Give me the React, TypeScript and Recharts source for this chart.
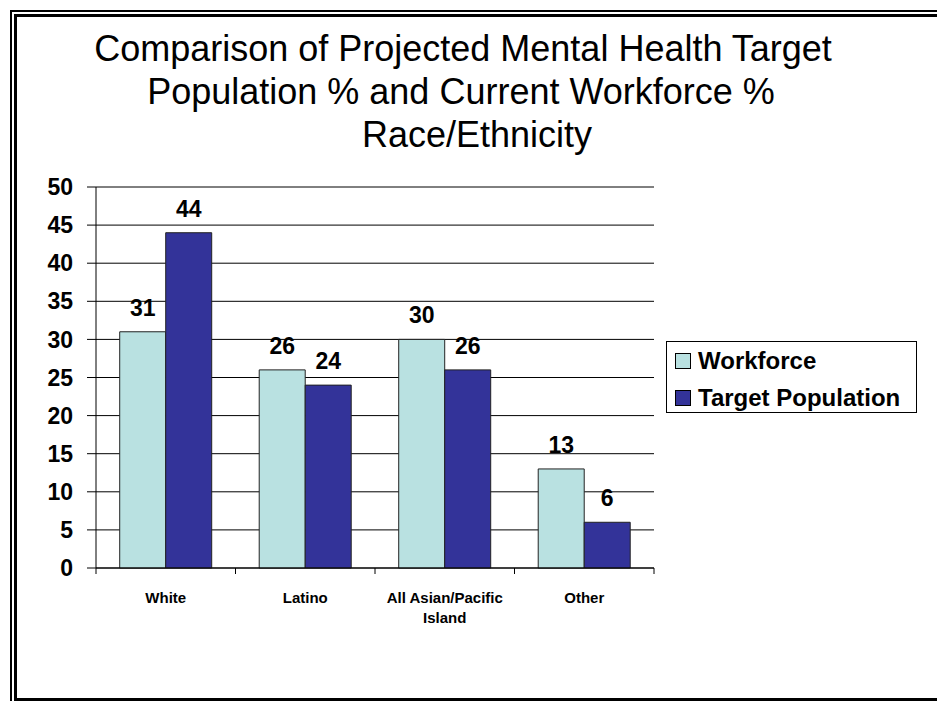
import React from 'react';
import { BarChart, Bar, XAxis, YAxis, CartesianGrid, Legend, LabelList } from 'recharts';

const categories = ['White', 'Latino', 'All Asian/Pacific Island', 'Other'];
const workforce = [31, 26, 30, 13];
const targetPopulation = [44, 24, 26, 6];
const yTicks = [0, 5, 10, 15, 20, 25, 30, 35, 40, 45, 50];
const titleLines = [
  'Comparison of Projected Mental Health Target',
  'Population % and Current Workforce %',
  'Race/Ethnicity',
];

const data = categories.map((name, i) => ({
  name,
  workforce: workforce[i],
  target: targetPopulation[i],
}));

const FONT = 'Arial, "Liberation Sans", sans-serif';
const LIGHT = '#B9E1E1';
const DARK = '#333399';

const CategoryTick = (props: any) => {
  const { x, y, payload, index, visibleTicksCount } = props;
  const half = payload.offset || 0;
  const words = String(payload.value).split(' ');
  const lines = words.length > 2 ? [words.slice(0, 2).join(' '), words.slice(2).join(' ')] : [payload.value];
  const last = index === (visibleTicksCount ?? categories.length) - 1;
  return (
    <g>
      <line x1={x - half} x2={x - half} y1={y} y2={y + 6} stroke="#000" />
      {last && <line x1={x + half} x2={x + half} y1={y} y2={y + 6} stroke="#000" />}
      <text x={x} y={y + 35} textAnchor="middle" fontFamily={FONT} fontWeight="bold" fontSize={15} fill="#000">
        {lines.map((l: string, i: number) => (
          <tspan key={i} x={x} dy={i === 0 ? 0 : 20}>{l}</tspan>
        ))}
      </text>
    </g>
  );
};

const LegendBox = () => (
  <div
    style={{
      border: '1px solid #000',
      width: 251,
      height: 72,
      boxSizing: 'border-box',
      paddingLeft: 8,
      paddingTop: 0,
      fontFamily: FONT,
      fontWeight: 'bold',
      fontSize: 24,
      background: '#fff',
    }}
  >
    {[
      { label: 'Workforce', color: LIGHT },
      { label: 'Target Population', color: DARK },
    ].map((it) => (
      <div key={it.label} style={{ display: 'flex', alignItems: 'center', height: 37, whiteSpace: 'nowrap' }}>
        <span
          style={{
            display: 'inline-block',
            width: 14,
            height: 14,
            background: it.color,
            border: '1px solid #000',
            marginRight: 7,
            flexShrink: 0,
          }}
        />
        {it.label}
      </div>
    ))}
  </div>
);

export default function App() {
  return (
    <div style={{ position: 'absolute', left: 0, top: 0, width: 937, height: 701, overflow: 'hidden', background: '#fff' }}>
      <div style={{ position: 'absolute', left: 10, top: 10, width: 1000, height: 1000, borderLeft: '2px solid #000', borderTop: '2px solid #000' }} />
      <div style={{ position: 'absolute', left: 14, top: 14, width: 1000, height: 681, borderLeft: '3px solid #000', borderTop: '3px solid #000', borderBottom: '3px solid #000' }} />
      {titleLines.map((t, i) => (
        <div
          key={i}
          style={{
            position: 'absolute',
            left: [463, 461, 477][i] - 450,
            top: 27 + i * 43,
            width: 900,
            textAlign: 'center',
            fontFamily: FONT,
            fontSize: 36,
            lineHeight: '43px',
            color: '#000',
            whiteSpace: 'nowrap',
          }}
        >
          {t}
        </div>
      ))}
      <div style={{ position: 'absolute', left: 0, top: 0 }}>
        <BarChart
          width={937}
          height={701}
          data={data}
          margin={{ top: 187, right: 283, bottom: 73, left: 0 }}
          barGap={0}
          barCategoryGap="17%"
        >
          <CartesianGrid vertical={false} stroke="#000" strokeWidth={1} />
          <XAxis
            dataKey="name"
            height={60}
            axisLine={{ stroke: '#000' }}
            tickLine={false}
            tickSize={0}
            tickMargin={0}
            interval={0}
            tick={<CategoryTick />}
          />
          <YAxis
            width={96}
            domain={[0, 50]}
            ticks={yTicks}
            interval={0}
            axisLine={{ stroke: '#000' }}
            tickLine={{ stroke: '#000' }}
            tickSize={9}
            tickMargin={14}
            tick={{ fontFamily: FONT, fontWeight: 'bold', fontSize: 23, fill: '#000' }}
          />
          <YAxis yAxisId="frame" orientation="right" width={0} domain={[0, 50]} tick={false} tickLine={false} axisLine={{ stroke: '#000' }} />
          <Legend
            layout="vertical"
            align="center"
            verticalAlign="middle"
            content={<LegendBox />}
            wrapperStyle={{ left: 666, top: 341, width: 251, height: 72 }}
          />
          <Bar dataKey="workforce" name="Workforce" fill={LIGHT} stroke="#222" strokeWidth={1} isAnimationActive={false}>
            <LabelList dataKey="workforce" position="top" offset={16} fill="#000" fontFamily={FONT} fontWeight="bold" fontSize={23} />
          </Bar>
          <Bar dataKey="target" name="Target Population" fill={DARK} stroke="#222" strokeWidth={1} isAnimationActive={false}>
            <LabelList dataKey="target" position="top" offset={16} fill="#000" fontFamily={FONT} fontWeight="bold" fontSize={23} />
          </Bar>
        </BarChart>
      </div>
    </div>
  );
}
